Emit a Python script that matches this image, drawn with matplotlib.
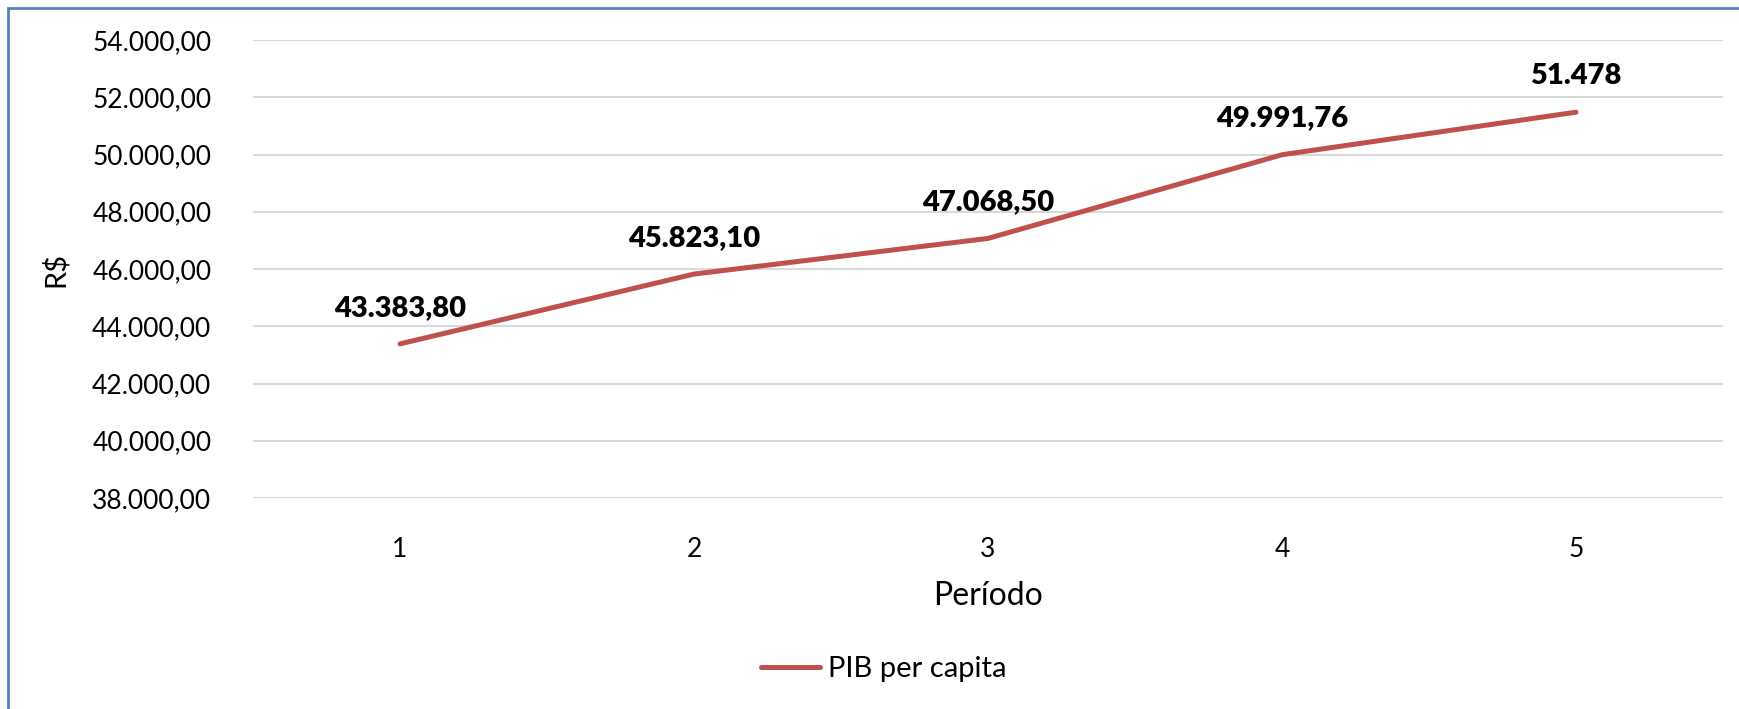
import matplotlib
matplotlib.use("Agg")
import matplotlib.pyplot as plt
from matplotlib.patches import Rectangle
from matplotlib.ticker import FuncFormatter

# Dados (PIB per capita por período)
periodos = [1, 2, 3, 4, 5]
pib = [43383.80, 45823.10, 47068.50, 49991.76, 51478.0]
rotulos = ["43.383,80", "45.823,10", "47.068,50", "49.991,76", "51.478"]
y_ticks = [38000, 40000, 42000, 44000, 46000, 48000, 50000, 52000, 54000]

plt.rcParams['font.family'] = ['Lato', 'DejaVu Sans']

W, H = 1740, 709
fig = plt.figure(figsize=(W / 100, H / 100), dpi=100)
ax = fig.add_axes([253 / W, 1 - 498 / H, (1723 - 253) / W, (498 - 40) / H])

cor = '#C0504D'
x = list(range(len(periodos)))
ax.plot(x, pib, color=cor, linewidth=3.6, solid_capstyle='round', label='PIB per capita')

for xi, yi, txt in zip(x, pib, rotulos):
    ax.annotate(txt, (xi, yi), xytext=(0, 26), textcoords='offset points',
                ha='center', va='center', fontsize=21, fontweight='heavy', color='black')

ax.set_xlim(-0.5, len(periodos) - 0.5)
ax.set_ylim(38000, 54000)
ax.set_yticks(y_ticks)
ax.yaxis.set_major_formatter(FuncFormatter(
    lambda v, p: f"{v:,.2f}".replace(',', 'X').replace('.', ',').replace('X', '.')))
ax.set_xticks(x)
ax.set_xticklabels([str(p) for p in periodos])

ax.grid(axis='y', color='#D9D9D9', linewidth=1.5)
ax.set_axisbelow(True)
for s in ax.spines.values():
    s.set_visible(False)
ax.tick_params(axis='both', length=0, labelsize=19, colors='black')
ax.tick_params(axis='y', pad=30)
ax.tick_params(axis='x', pad=28)

ax.set_ylabel('R$', fontsize=21, labelpad=17)
ax.set_xlabel('Período', fontsize=23, labelpad=14)

fig.legend(loc='center', bbox_to_anchor=(884 / W, 1 - 669 / H), frameon=False,
           fontsize=21, handlelength=2.0, handletextpad=0.3)

# Borda azul do gráfico
fig.patches.append(Rectangle((8.5 / W, -0.1), 1.2, 1 - 7.5 / H + 0.1,
                             transform=fig.transFigure, fill=False,
                             edgecolor='#4F81BD', linewidth=2))

fig.savefig('out.png', dpi=100)
